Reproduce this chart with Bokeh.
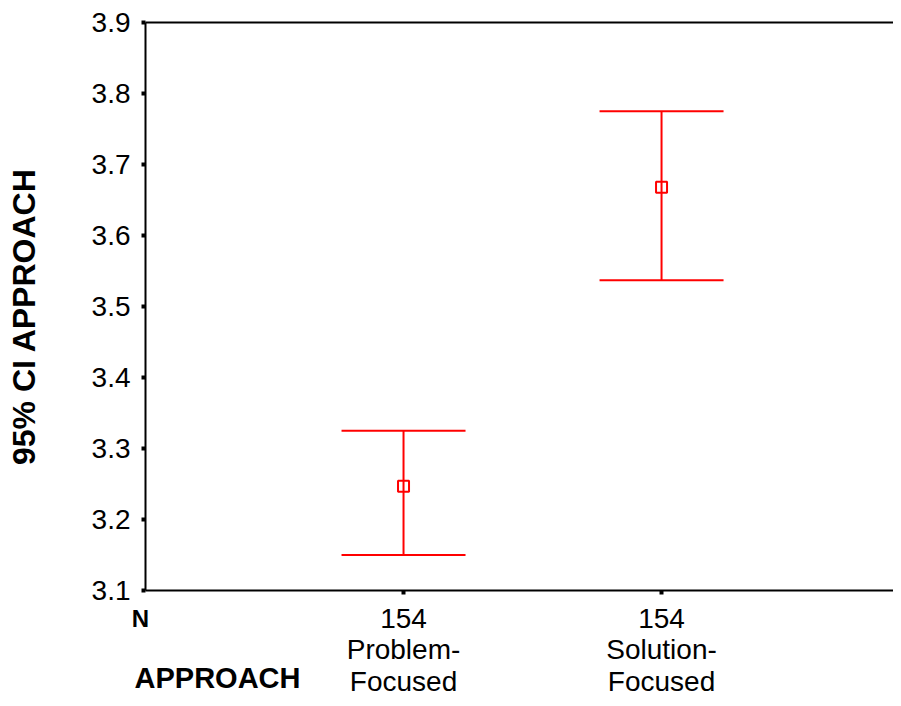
import math
from bokeh.plotting import figure
from bokeh.models import (ColumnDataSource, Range1d, FixedTicker, Whisker, TeeHead,
                          LinearAxis, Label)
from bokeh.embed import file_html
from bokeh.resources import INLINE

# ---- data ----
groups = ["Problem-\nFocused", "Solution-\nFocused"]
n_counts = [154, 154]
means = [3.247, 3.668]
lower = [3.150, 3.537]
upper = [3.325, 3.775]
y_ticks = [3.1, 3.2, 3.3, 3.4, 3.5, 3.6, 3.7, 3.8, 3.9]
x_pos = [1, 2]
y_title = "95% CI APPROACH"
row_labels = ["N", "APPROACH"]

FONT = "Liberation Sans"
RED = "#ff0000"
Y0, Y1 = y_ticks[0], y_ticks[-1]
X_LO, X_HI = -0.562, 2.899   # view window: axis origin sits at x = 0

src = ColumnDataSource(dict(x=x_pos, mean=means, lower=lower, upper=upper))

p = figure(width=893, height=698, output_backend="svg", toolbar_location=None,
           x_range=Range1d(X_LO, X_HI), y_range=Range1d(2.9479, 3.931),
           x_axis_location=None, y_axis_location=None,
           min_border_left=0, min_border_top=0, min_border_right=0, min_border_bottom=0)
p.outline_line_color = None
p.grid.visible = False
p.background_fill_color = "white"
p.border_fill_color = "white"

def style_labels(ax, size, bold=False):
    ax.major_label_text_font = FONT
    ax.major_label_text_font_size = size
    ax.major_label_text_color = "black"
    if bold:
        ax.major_label_text_font_style = "bold"

# y axis (line only between 3.1 and 3.9)
ya = LinearAxis(fixed_location=0, bounds=(Y0, Y1), ticker=FixedTicker(ticks=y_ticks),
                major_label_overrides={t: f"{t:.1f}" for t in y_ticks})
ya.axis_line_width = 2
ya.axis_line_color = "black"
ya.major_tick_line_width = 4
ya.major_tick_out = 4
ya.major_tick_in = 0
ya.minor_tick_line_color = None
style_labels(ya, "28px")
ya.major_label_standoff = 11
p.add_layout(ya, "left")

# bottom axis with N and group names
xa = LinearAxis(fixed_location=Y0, bounds=(0, X_HI), ticker=FixedTicker(ticks=x_pos),
                major_label_overrides={x: f"{n}\n{g}" for x, n, g in zip(x_pos, n_counts, groups)})
xa.axis_line_width = 2
xa.axis_line_color = "black"
xa.major_tick_line_width = 4
xa.major_tick_out = 4
xa.major_tick_in = 0
xa.minor_tick_line_color = None
style_labels(xa, "28px")
xa.major_label_text_line_height = 1.03
xa.major_label_standoff = 8
p.add_layout(xa, "below")

# top frame line
ta = LinearAxis(fixed_location=Y1, bounds=(0, X_HI), ticker=FixedTicker(ticks=[]))
ta.axis_line_width = 2
ta.axis_line_color = "black"
ta.major_tick_line_color = None
ta.minor_tick_line_color = None
ta.major_label_text_font_size = "0px"
p.add_layout(ta, "above")

# error bars
wh = Whisker(source=src, base="x", upper="upper", lower="lower", line_color=RED, line_width=2,
             upper_head=TeeHead(size=124, line_color=RED, line_width=2),
             lower_head=TeeHead(size=124, line_color=RED, line_width=2))
p.add_layout(wh)
p.scatter("x", "mean", source=src, marker="square", size=11, fill_color=None,
          line_color=RED, line_width=2)

# texts (screen units measured from the bottom-left corner)
p.add_layout(Label(x=23, y=382, x_units="screen", y_units="screen", text=y_title,
                   angle=90, angle_units="deg", text_font=FONT, text_font_size="32px",
                   text_font_style="bold", text_align="center", text_baseline="alphabetic",
                   text_color="black"))
p.add_layout(Label(x=140, y=80, x_units="screen", y_units="screen", text=row_labels[0],
                   text_font=FONT, text_font_size="24px", text_font_style="bold",
                   text_align="center", text_baseline="alphabetic", text_color="black"))
p.add_layout(Label(x=217, y=21, x_units="screen", y_units="screen", text=row_labels[1],
                   text_font=FONT, text_font_size="29px", text_font_style="bold",
                   text_align="center", text_baseline="alphabetic", text_color="black"))

open("out.html", "w").write(file_html(p, INLINE))
